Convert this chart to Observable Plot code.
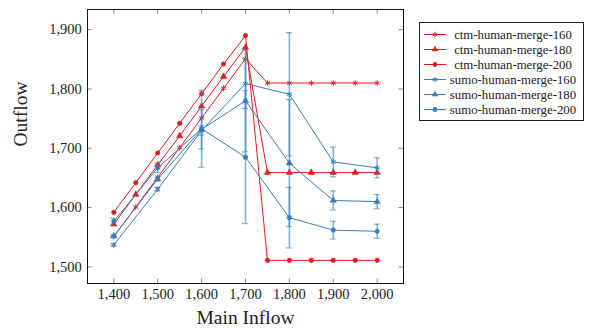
<!DOCTYPE html>
<html>
<head>
<meta charset="utf-8">
<script src="https://cdn.jsdelivr.net/npm/d3@7"></script>
<script src="https://cdn.jsdelivr.net/npm/@observablehq/plot@0.6"></script>
<style>
  html, body { margin: 0; padding: 0; background: #fff; }
  #wrap { position: relative; width: 596px; height: 333px; font-family: "Liberation Serif", "DejaVu Serif", serif; }
  #wrap svg, #wrap svg text { font-family: "Liberation Serif", "DejaVu Serif", serif !important; }
  #legend { position: absolute; left: 419px; top: 22px; width: 165px; height: 99px;
            box-sizing: border-box; border: 1px solid #222; background: #fff; }
</style>
</head>
<body>
<div id="wrap"><div id="chart"></div><div id="legend"></div></div>
<script>
// ---- data ----
const xTicks = [1400, 1500, 1600, 1700, 1800, 1900, 2000];
const yTicks = [1500, 1600, 1700, 1800, 1900];

const ctmInflow = [1400, 1450, 1500, 1550, 1600, 1650, 1700, 1750, 1800, 1850, 1900, 1950, 2000];
const ctm160 = [1551, 1601, 1651, 1701, 1751, 1801, 1851, 1810, 1810, 1810, 1810, 1810, 1810];
const ctm180 = [1572, 1622, 1672, 1721, 1771, 1821, 1870, 1659, 1659, 1659, 1659, 1659, 1659];
const ctm200 = [1592, 1642, 1692, 1742, 1792, 1842, 1890, 1511, 1511, 1511, 1511, 1511, 1511];

const sumoInflow = [1400, 1500, 1600, 1700, 1800, 1900, 2000];
const sumo160 = [1537, 1631, 1730, 1809, 1791, 1677, 1667];
const sumo160Err = [2, 3, 8, 42, 104, 25, 17];
const sumo180 = [1552, 1648, 1732, 1780, 1675, 1612, 1610];
const sumo180Err = [2, 3, 33, 86, 107, 16, 12];
const sumo200 = [1577, 1667, 1733, 1685, 1583, 1562, 1560];
const sumo200Err = [5, 8, 65, 112, 51, 15, 12];

const seriesNames = ["ctm-human-merge-160", "ctm-human-merge-180", "ctm-human-merge-200",
                     "sumo-human-merge-160", "sumo-human-merge-180", "sumo-human-merge-200"];

// ---- styles ----
const RED = "#e41a1c", BLUE = "#377eb8";
const FONT = "'Liberation Serif', 'DejaVu Serif', serif";

// ---- tidy tables ----
const ctmSets = [ctm160, ctm180, ctm200];
const sumoSets = [sumo160, sumo180, sumo200];
const sumoErrs = [sumo160Err, sumo180Err, sumo200Err];
const ctm = ctmSets.map((vals, k) => vals.map((v, i) => ({x: ctmInflow[i], y: v, s: seriesNames[k], k})));
const sumo = sumoSets.map((vals, k) => vals.map((v, i) => ({x: sumoInflow[i], y: v, e: sumoErrs[k][i], s: seriesNames[k + 3], k})));

const W = 596, H = 333, mL = 87, mR = 193, mT = 9, mB = 50;
const innerW = W - mL - mR, innerH = H - mT - mB;
const TL = 4.5;

function markerMarks(data, color) {
  return data.map((d, k) => {
    if (k === 0) return Plot.dot(d, {x: "x", y: "y", symbol: "asterisk", r: 2.6, stroke: color, strokeWidth: 1});
    if (k === 1) return Plot.dot(d, {x: "x", y: "y", symbol: "triangle", r: 2.4, fill: color, stroke: color, strokeWidth: 0.5});
    return Plot.dot(d, {x: "x", y: "y", symbol: "circle", r: 2.3, fill: color, stroke: color, strokeWidth: 0.5});
  });
}

const allSumo = sumo.flat();

const chart = Plot.plot({
  width: W, height: H,
  marginLeft: mL, marginRight: mR, marginTop: mT, marginBottom: mB,
  x: {domain: [1340, 2060], label: null},
  y: {domain: [1472, 1934], label: null},
  style: {fontFamily: FONT, fontSize: "14.5px", background: "#fff", color: "#222"},
  marks: [
    // inward tick marks on all four sides
    Plot.tickX(xTicks, {x: d => d, insetTop: innerH - TL, stroke: "#888"}),
    Plot.tickX(xTicks, {x: d => d, insetBottom: innerH - TL, stroke: "#888"}),
    Plot.tickY(yTicks, {y: d => d, insetRight: innerW - TL, stroke: "#888"}),
    Plot.tickY(yTicks, {y: d => d, insetLeft: innerW - TL, stroke: "#888"}),
    Plot.axisX({ticks: xTicks, tickSize: 0, tickPadding: 5.5, tickFormat: d3.format(","), label: null, fontFamily: FONT}),
    Plot.axisY({ticks: yTicks, tickSize: 0, tickPadding: 5.7, tickFormat: d3.format(","), label: null, fontFamily: FONT}),
    // ctm
    ...ctm.map(d => Plot.line(d, {x: "x", y: "y", stroke: RED, strokeWidth: 1})),
    ...markerMarks(ctm, RED),
    // sumo error bars
    Plot.ruleX(allSumo, {x: "x", y1: d => d.y - d.e, y2: d => d.y + d.e, stroke: BLUE, strokeOpacity: 0.6, strokeWidth: 1.6}),
    Plot.ruleY(allSumo, {y: d => d.y + d.e, x1: "x", x2: "x", insetLeft: -3, insetRight: -3, stroke: BLUE, strokeOpacity: 0.6, strokeWidth: 1.2}),
    Plot.ruleY(allSumo, {y: d => d.y - d.e, x1: "x", x2: "x", insetLeft: -3, insetRight: -3, stroke: BLUE, strokeOpacity: 0.6, strokeWidth: 1.2}),
    ...sumo.map(d => Plot.line(d, {x: "x", y: "y", stroke: BLUE, strokeWidth: 1})),
    ...markerMarks(sumo, BLUE),
    Plot.frame({stroke: "#111", strokeWidth: 1}),
    // axis titles
    Plot.text(["Main Inflow"], {frameAnchor: "bottom", dy: 40, text: d => d, fontSize: 19.5, fill: "#222", fontFamily: FONT}),
    Plot.text(["Outflow"], {frameAnchor: "left", dx: -66.5, rotate: -90, text: d => d, fontSize: 19.5, fill: "#222", fontFamily: FONT})
  ]
});
document.getElementById("chart").appendChild(chart);

// ---- legend ----
const lg = d3.select("#legend").append("svg").attr("width", 163).attr("height", 97)
  .style("position", "absolute").style("left", "0px").style("top", "0px");
seriesNames.forEach((name, i) => {
  const color = i < 3 ? RED : BLUE;
  const k = i % 3;
  const cy = 11.5 + i * 15;
  const g = lg.append("g");
  g.append("line").attr("x1", 4).attr("x2", 26).attr("y1", cy).attr("y2", cy)
    .attr("stroke", color).attr("stroke-width", 1);
  const sym = d3.symbol().type([d3.symbolAsterisk, d3.symbolTriangle, d3.symbolCircle][k])
    .size(k === 0 ? Math.PI * 2.6 * 2.6 : Math.PI * 2.4 * 2.4);
  const p = g.append("path").attr("d", sym()).attr("transform", `translate(15,${cy})`);
  if (k === 0) p.attr("fill", "none").attr("stroke", color).attr("stroke-width", 1);
  else p.attr("fill", color);
  g.append("text").attr("x", 93).attr("y", cy).attr("dy", "0.35em").attr("text-anchor", "middle")
    .attr("font-family", FONT).attr("font-size", 12.8).attr("fill", "#222")
    .text(name);
});
</script>
</body>
</html>
